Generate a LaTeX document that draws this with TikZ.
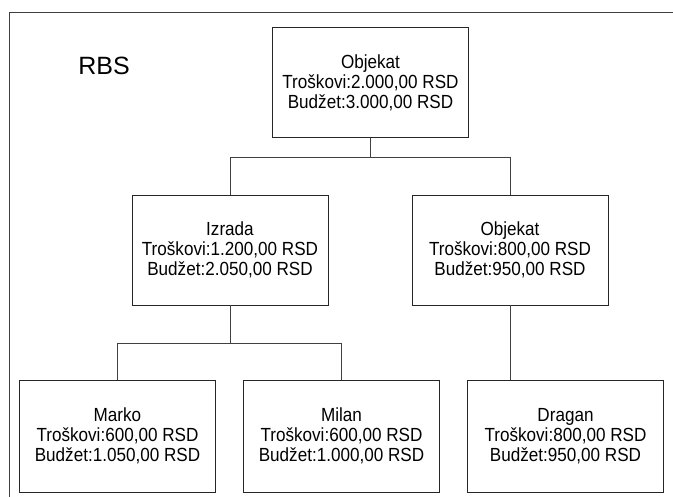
\documentclass[tikz,border=0pt]{standalone}
\usepackage{fontspec}
\setmainfont{Liberation Sans}
\newfontfamily\boxfont[FakeStretch=0.9]{Liberation Sans}
\begin{document}
\begin{tikzpicture}[x=1pt,y=-1pt,
  box/.style={draw=black!85,line width=0.8pt,rectangle,minimum width=196pt,minimum height=110pt,inner sep=0pt,align=center,font=\boxfont\fontsize{19}{20}\selectfont},
  conn/.style={draw=black!75,line width=0.7pt},
  frame/.style={draw=black!75,line width=0.8pt}]
\useasboundingbox (0,0) rectangle (673,497);
\draw[frame] (9,497) -- (9,12) -- (673,12);
\node[font=\fontsize{25}{28}\selectfont] (rbs) at (104,66) {RBS};
\node[box] (top) at (370.5,82.5) {Objekat\\Troškovi:2.000,00 RSD\\Budžet:3.000,00 RSD};
\node[box] (izrada) at (230,250) {Izrada\\Troškovi:1.200,00 RSD\\Budžet:2.050,00 RSD};
\node[box] (obj2) at (510,250) {Objekat\\Troškovi:800,00 RSD\\Budžet:950,00 RSD};
\node[box,minimum height=112pt] (marko) at (117.5,436) {Marko\\Troškovi:600,00 RSD\\Budžet:1.050,00 RSD};
\node[box,minimum height=112pt] (milan) at (341.5,436) {Milan\\Troškovi:600,00 RSD\\Budžet:1.000,00 RSD};
\node[box,minimum height=112pt] (dragan) at (565.5,436) {Dragan\\Troškovi:800,00 RSD\\Budžet:950,00 RSD};
\coordinate (j1) at (370.5,157);
\coordinate (j2) at (230,343);
\draw[conn] (top.south) -- (j1);
\draw[conn] (izrada.north) |- (j1);
\draw[conn] (obj2.north) |- (j1);
\draw[conn] (izrada.south) -- (j2);
\draw[conn] (marko.north) |- (j2);
\draw[conn] (milan.north) |- (j2);
\draw[conn] (obj2.south) -- (obj2.south |- dragan.north);
\end{tikzpicture}
\end{document}
